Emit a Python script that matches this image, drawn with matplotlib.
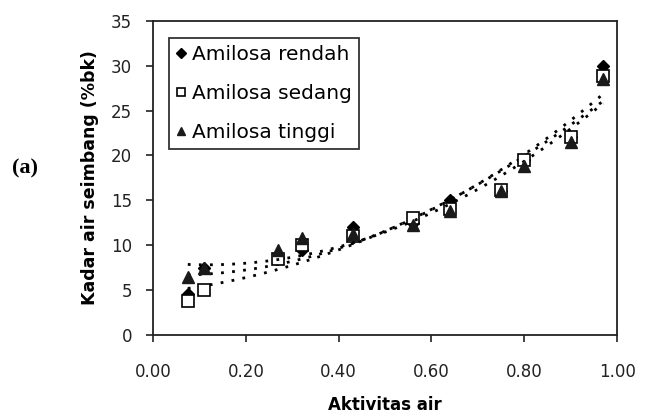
import numpy as np
import matplotlib
matplotlib.use("Agg")
from matplotlib import pyplot as plt

# DATA
aw = [0.075, 0.11, 0.27, 0.32, 0.43, 0.56, 0.64, 0.75, 0.80, 0.90, 0.97]
rendah = [4.6, 7.5, 8.6, 9.5, 12.0, 12.5, 15.0, 16.0, 19.5, 22.0, 30.0]
sedang = [3.8, 5.0, 8.5, 10.0, 11.0, 13.0, 14.0, 16.2, 19.5, 22.0, 28.8]
tinggi = [6.4, 7.5, 9.5, 10.8, 11.2, 12.3, 13.8, 16.0, 18.8, 21.5, 28.5]
labels = ["Amilosa rendah", "Amilosa sedang", "Amilosa tinggi"]
xticks = [0.0, 0.2, 0.4, 0.6, 0.8, 1.0]
yticks = [0, 5, 10, 15, 20, 25, 30, 35]

plt.rcParams["font.family"] = ["DejaVu Sans"]

fig = plt.figure(figsize=(6.51, 4.17), dpi=100)
ax = fig.add_axes([0.235, 0.197, 0.713, 0.753])

styles = [
    dict(marker="D", color="black", mfc="black", ms=6),
    dict(marker="s", color="black", mfc="white", ms=8, mew=1.2),
    dict(marker="^", color="#1a1a1a", mfc="#1a1a1a", ms=8),
]

x = np.array(aw)
xs = np.linspace(x.min(), x.max(), 100)
for ys, lab, st in zip([rendah, sedang, tinggi], labels, styles):
    # polynomial trendline (order 2)
    p = np.polyfit(x, ys, 2)
    ax.plot(xs, np.polyval(p, xs), ls=(0, (1, 3)), color="black", lw=2)
    ax.plot(x, ys, ls="none", label=lab, **st)

ax.set_xlim(0, 1.0)
ax.set_ylim(0, 35)
ax.set_xticks(xticks)
ax.set_xticklabels(["%.2f" % t for t in xticks])
ax.set_yticks(yticks)
ax.tick_params(direction="out", length=5, width=1.2, labelsize=12, colors="#222222")
ax.tick_params(axis="x", pad=15)
ax.tick_params(axis="y", pad=10)
for s in ax.spines.values():
    s.set_linewidth(1.3)
    s.set_color("#222222")

ax.set_xlabel("Aktivitas air", fontsize=12, fontweight="bold", labelpad=11)
ax.set_ylabel("Kadar air seimbang (%bk)", fontsize=12.5, fontweight="bold", labelpad=9)

leg = ax.legend(loc="upper left", bbox_to_anchor=(0.035, 0.945), fontsize=14.5,
                frameon=True, fancybox=False, edgecolor="black", handlelength=0.5,
                handletextpad=0.3, borderpad=0.35, labelspacing=1.0, markerscale=0.8,
                borderaxespad=0)
leg.get_frame().set_linewidth(1.3)

fig.text(0.018, 0.595, "(a)", fontsize=16, fontweight="bold",
         family=["Liberation Serif", "DejaVu Serif"], ha="left", va="center")

fig.savefig("out.png", dpi=100)
